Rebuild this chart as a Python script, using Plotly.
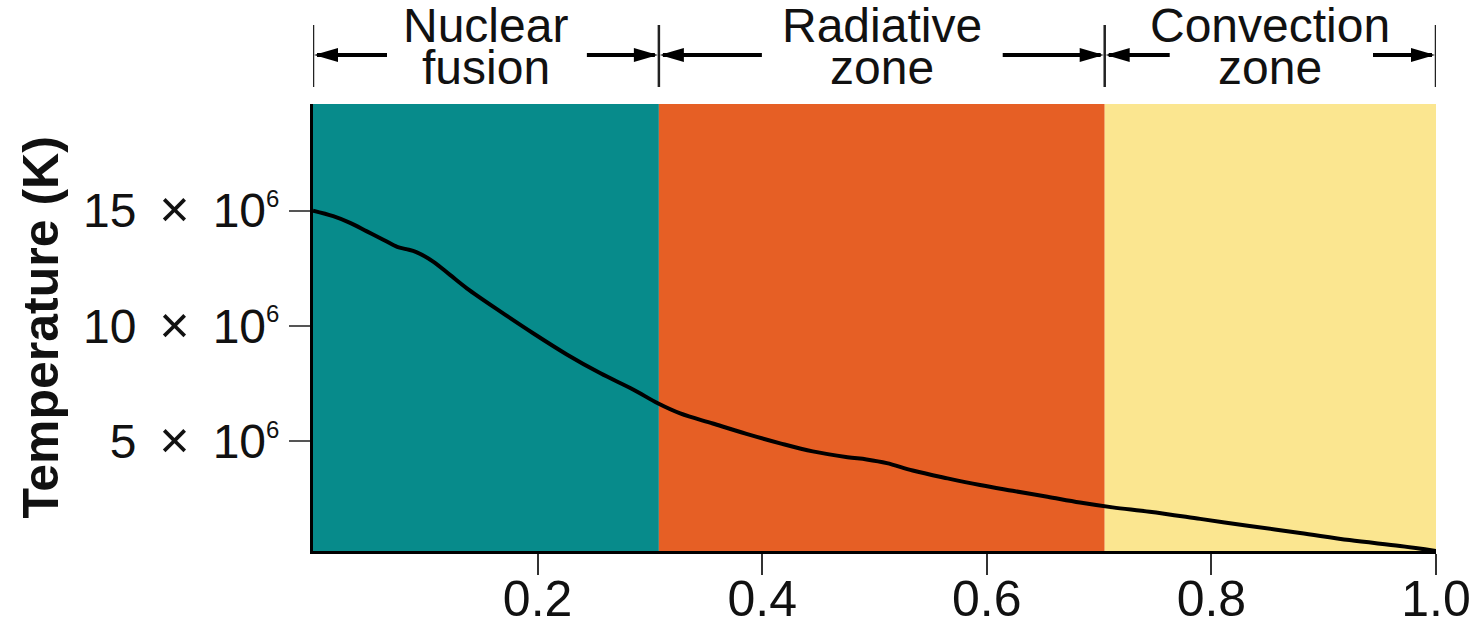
import plotly.graph_objects as go

# Fractional distance from the centre of the Sun (0 = core, 1 = surface)
radius = [0.000, 0.018, 0.033, 0.048, 0.063, 0.075, 0.083, 0.092, 0.107, 0.122,
          0.137, 0.167, 0.196, 0.226, 0.256, 0.285, 0.307, 0.327, 0.356, 0.386,
          0.416, 0.445, 0.476, 0.493, 0.511, 0.534, 0.565, 0.594, 0.623, 0.654,
          0.683, 0.712, 0.745, 0.790, 0.834, 0.879, 0.923, 0.968, 1.000]
# Temperature, in units of 10^6 K
temperature = [15.00, 14.76, 14.47, 14.10, 13.73, 13.43, 13.33, 13.20, 12.79, 12.21,
               11.63, 10.62, 9.68, 8.76, 7.94, 7.24, 6.64, 6.20, 5.76, 5.31,
               4.90, 4.55, 4.30, 4.20, 4.04, 3.72, 3.38, 3.09, 2.84, 2.58,
               2.33, 2.12, 1.93, 1.62, 1.31, 1.01, 0.70, 0.44, 0.23]

# Zones of the solar interior
zone_edges = [0.0, 0.308, 0.705, 1.0]
zone_title_top = ["Nuclear", "Radiative", "Convection"]
zone_title_bottom = ["fusion", "zone", "zone"]

# Axis ticks
x_ticks = [0.2, 0.4, 0.6, 0.8, 1.0]
x_tick_labels = ["0.2", "0.4", "0.6", "0.8", "1.0"]
y_ticks = [5, 10, 15]
y_tick_labels = ["5", "10", "15"]

# Styling
zone_colors = ["#078b8b", "#e65f25", "#fbe690"]
arrow_len = [(74, 72), (103, 102), (65, 63)]  # px of shaft left/right inside each zone
FONT = "Liberation Sans, Arial, Helvetica, sans-serif"
ARROW_Y = 49      # px above the top of the plot
BAR_Y = (17, 79)  # px above the top of the plot
HEAD_L, HEAD_W = 25, 7

fig = go.Figure()

fig.add_trace(go.Scatter(
    x=radius, y=temperature, mode="lines",
    line=dict(color="black", width=4, shape="spline", smoothing=1.0),
    hoverinfo="skip", showlegend=False, cliponaxis=False,
))

shapes = []
annotations = []

# coloured zone backgrounds
for i, col in enumerate(zone_colors):
    shapes.append(dict(type="rect", xref="x", yref="paper",
                       x0=zone_edges[i], x1=zone_edges[i + 1], y0=0, y1=1,
                       fillcolor=col, line=dict(width=0), layer="below"))

# bracket bars at the zone edges
for e in zone_edges:
    shapes.append(dict(type="line", xref="x", yref="paper",
                       x0=e, x1=e, ysizemode="pixel", yanchor=1,
                       y0=BAR_Y[0], y1=BAR_Y[1],
                       line=dict(color="#222222", width=2.5)))

# arrows pointing from each label out to its zone edges
for i in range(3):
    left, right = zone_edges[i], zone_edges[i + 1]
    ll, rl = arrow_len[i]
    shapes.append(dict(type="line", xref="x", yref="paper",
                       xsizemode="pixel", xanchor=left, x0=4, x1=ll,
                       ysizemode="pixel", yanchor=1, y0=ARROW_Y, y1=ARROW_Y,
                       line=dict(color="black", width=4)))
    shapes.append(dict(type="line", xref="x", yref="paper",
                       xsizemode="pixel", xanchor=right, x0=-rl, x1=-4,
                       ysizemode="pixel", yanchor=1, y0=ARROW_Y, y1=ARROW_Y,
                       line=dict(color="black", width=4)))
    shapes.append(dict(type="path", xref="x", yref="paper",
                       xsizemode="pixel", xanchor=left,
                       ysizemode="pixel", yanchor=1,
                       path=f"M1,{ARROW_Y} L{HEAD_L},{ARROW_Y + HEAD_W} L{HEAD_L},{ARROW_Y - HEAD_W} Z",
                       fillcolor="black", line=dict(width=0)))
    shapes.append(dict(type="path", xref="x", yref="paper",
                       xsizemode="pixel", xanchor=right,
                       ysizemode="pixel", yanchor=1,
                       path=f"M-1,{ARROW_Y} L-{HEAD_L},{ARROW_Y + HEAD_W} L-{HEAD_L},{ARROW_Y - HEAD_W} Z",
                       fillcolor="black", line=dict(width=0)))

    mid = (left + right) / 2
    annotations.append(dict(x=mid, xref="x", y=1.176, yref="paper",
                            text=zone_title_top[i], showarrow=False,
                            xanchor="center", yanchor="middle",
                            font=dict(family=FONT, size=48, color="#111111")))
    annotations.append(dict(x=mid, xref="x", y=1.082, yref="paper",
                            text=zone_title_bottom[i], showarrow=False,
                            xanchor="center", yanchor="middle",
                            font=dict(family=FONT, size=48, color="#111111")))

# y-axis title
annotations.append(dict(x=-0.243, xref="paper", y=0.5, yref="paper",
                        text="<b>Temperature (K)</b>", textangle=-90,
                        showarrow=False, xanchor="center", yanchor="middle",
                        font=dict(family=FONT, size=50, color="#111111")))

y_text = [f"{t}\u2009 <span style='font-size:52px'>×</span> \u200910"
          f"<sup><span style='font-size:24px'>6</span></sup>"
          for t in y_tick_labels]

fig.update_layout(
    width=1482, height=630,
    margin=dict(l=313, r=46, t=104, b=79, autoexpand=False),
    paper_bgcolor="white", plot_bgcolor="white",
    shapes=shapes, annotations=annotations,
    font=dict(family=FONT, size=46, color="#111111"),
    xaxis=dict(range=[0, 1], showgrid=False, zeroline=False, automargin=False,
               showline=True, linecolor="black", linewidth=3,
               ticks="outside", ticklen=21, tickwidth=2, tickcolor="#333333",
               tickvals=x_ticks, ticktext=x_tick_labels, ticklabelstandoff=-19,
               tickfont=dict(family=FONT, size=50, color="#111111")),
    yaxis=dict(range=[0.226, 19.63], showgrid=False, zeroline=False, automargin=False,
               showline=True, linecolor="black", linewidth=3,
               ticks="outside", ticklen=21, tickwidth=2, tickcolor="#555555",
               tickvals=y_ticks, ticktext=y_text,
               tickfont=dict(family=FONT, size=48, color="#111111")),
)

fig.write_html("out.html")
